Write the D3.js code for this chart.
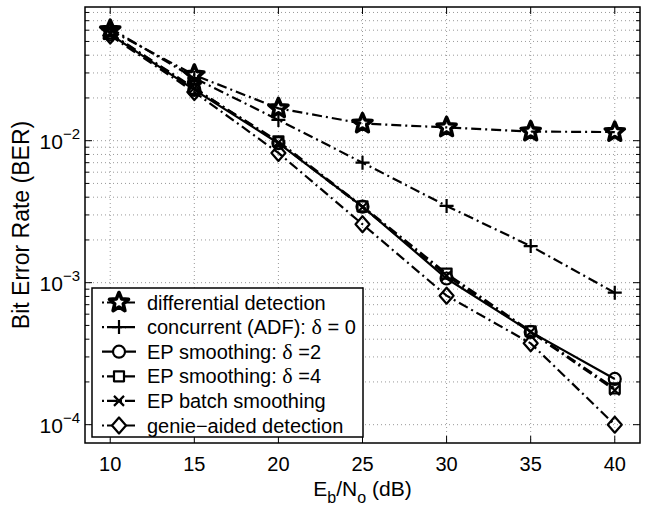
<!DOCTYPE html>
<html>
<head>
<meta charset="utf-8">
<script src="https://cdn.jsdelivr.net/npm/d3@7"></script>
<style>
  body { margin: 0; background: #fff; }
  text { font-family: "Liberation Sans", Arial, Helvetica, sans-serif; fill: #000; }
</style>
</head>
<body>
<div id="chart-area"></div>
<script>
/*
*    BER vs Eb/No - detection schemes
*/
var snr = [10, 15, 20, 25, 30, 35, 40];
var berDiff  = [0.060, 0.029, 0.0169, 0.0132, 0.0124, 0.0116, 0.0115];
var berAdf   = [0.062, 0.0276, 0.0140, 0.0070, 0.00347, 0.00181, 0.00085];
var berEp2   = [0.056, 0.0228, 0.0096, 0.00343, 0.00107, 0.00045, 0.00021];
var berEp4   = [0.057, 0.0232, 0.0099, 0.00345, 0.00116, 0.000455, 0.00018];
var berBatch = [0.057, 0.0235, 0.0097, 0.00340, 0.00112, 0.00045, 0.000175];
var berGenie = [0.055, 0.0220, 0.0082, 0.00258, 0.00081, 0.000374, 0.0001];

var seriesNames = ["differential detection", "concurrent (ADF): ", "EP smoothing: ",
                   "EP smoothing: ", "EP batch smoothing", "genie\u2212aided detection"];
var deltaText = [null, " = 0", " =2", " =4", null, null];
var xTicks = [10, 15, 20, 25, 30, 35, 40];
var yExps = [-2, -3, -4];

var margin = {left: 85, right: 19, top: 7, bottom: 68};
var width = 659 - margin.left - margin.right;
var height = 511 - margin.top - margin.bottom;

var svg = d3.select("#chart-area")
    .append("svg")
        .attr("width", 659)
        .attr("height", 511);
var g = svg.append("g")
    .attr("transform", "translate(" + margin.left + ", " + margin.top + ")");

var x = d3.scaleLinear().domain([8.5, 41.5]).range([0, width]);
var y = d3.scaleLog().domain([7.43e-5, 0.0874]).range([height, 0]);

// grid (dotted, every minor decade line like matlab)
var minorVals = [];
[1e-4, 1e-3, 1e-2].forEach(function(dec){
    for (var k = 1; k <= 9; k++) minorVals.push(dec * k);
});
minorVals = minorVals.filter(function(v){ return v >= y.domain()[0] && v <= y.domain()[1]; });

g.selectAll(".ygrid").data(minorVals).enter().append("line")
    .attr("x1", 0).attr("x2", width)
    .attr("y1", function(d){ return y(d); })
    .attr("y2", function(d){ return y(d); })
    .attr("stroke", "#999").attr("stroke-width", 1)
    .attr("stroke-dasharray", "1,3");
g.selectAll(".xgrid").data(xTicks).enter().append("line")
    .attr("y1", 0).attr("y2", height)
    .attr("x1", function(d){ return x(d); })
    .attr("x2", function(d){ return x(d); })
    .attr("stroke", "#999").attr("stroke-width", 1)
    .attr("stroke-dasharray", "1,3");

// inward ticks on all four sides
function isMajor(v){ return Math.abs(Math.log10(v) - Math.round(Math.log10(v))) < 1e-6; }
minorVals.forEach(function(v){
    var len = isMajor(v) ? 7 : 4;
    g.append("line").attr("x1", 0).attr("x2", len)
        .attr("y1", y(v)).attr("y2", y(v)).attr("stroke", "#000");
    g.append("line").attr("x1", width - len).attr("x2", width)
        .attr("y1", y(v)).attr("y2", y(v)).attr("stroke", "#000");
});
xTicks.forEach(function(v){
    g.append("line").attr("x1", x(v)).attr("x2", x(v))
        .attr("y1", height).attr("y2", height - 7).attr("stroke", "#000");
    g.append("line").attr("x1", x(v)).attr("x2", x(v))
        .attr("y1", 0).attr("y2", 7).attr("stroke", "#000");
});

// tick labels
g.selectAll(".xlab").data(xTicks).enter().append("text")
    .attr("x", function(d){ return x(d); })
    .attr("y", height + 28)
    .attr("text-anchor", "middle")
    .attr("font-size", "20px")
    .text(function(d){ return d; });

var yl = g.selectAll(".ylab").data(yExps).enter().append("text")
    .attr("x", -5)
    .attr("y", function(d){ return y(Math.pow(10, d)) + 8; })
    .attr("text-anchor", "end")
    .attr("font-size", "21px");
yl.append("tspan").text("10");
yl.append("tspan").attr("dy", -10).attr("font-size", "15px")
    .text(function(d){ return "\u2212" + (-d); });

// axis titles
var xt = g.append("text")
    .attr("x", width / 2)
    .attr("y", height + 53)
    .attr("text-anchor", "middle")
    .attr("font-size", "21px");
xt.append("tspan").text("E");
xt.append("tspan").attr("dy", 7).attr("font-size", "16px").text("b");
xt.append("tspan").attr("dy", -7).text("/N");
xt.append("tspan").attr("dy", 7).attr("font-size", "16px").text("o");
xt.append("tspan").attr("dy", -7).text(" (dB)");

g.append("text")
    .attr("x", -(height / 2))
    .attr("y", -56)
    .attr("transform", "rotate(-90)")
    .attr("text-anchor", "middle")
    .attr("font-size", "23px")
    .text("Bit Error Rate (BER)");

// marker shapes
function markerPath(type){
    var p = d3.path();
    if (type === "star") {
        for (var i = 0; i < 10; i++) {
            var r = i % 2 === 0 ? 10 : 4.5;
            var a = -Math.PI / 2 + i * Math.PI / 5;
            if (i === 0) p.moveTo(r * Math.cos(a), r * Math.sin(a));
            else p.lineTo(r * Math.cos(a), r * Math.sin(a));
        }
        p.closePath();
    } else if (type === "plus") {
        p.moveTo(-7, 0); p.lineTo(7, 0); p.moveTo(0, -7); p.lineTo(0, 7);
    } else if (type === "circle") {
        p.arc(0, 0, 6, 0, 2 * Math.PI);
    } else if (type === "square") {
        p.rect(-5, -5, 10, 10);
    } else if (type === "x") {
        p.moveTo(-5, -5); p.lineTo(5, 5); p.moveTo(-5, 5); p.lineTo(5, -5);
    } else if (type === "diamond") {
        p.moveTo(0, -8); p.lineTo(7, 0); p.lineTo(0, 8); p.lineTo(-7, 0); p.closePath();
    }
    return p.toString();
}

var dashDot = "10,4,2,4";
var series = [
    {vals: berDiff,  dash: dashDot, marker: "star"},
    {vals: berAdf,   dash: dashDot, marker: "plus"},
    {vals: berEp2,   dash: null,    marker: "circle"},
    {vals: berEp4,   dash: dashDot, marker: "square"},
    {vals: berBatch, dash: dashDot, marker: "x"},
    {vals: berGenie, dash: dashDot, marker: "diamond"}
];

var line = d3.line()
    .x(function(d, i){ return x(snr[i]); })
    .y(function(d){ return y(d); });

series.forEach(function(s){
    g.append("path")
        .attr("d", line(s.vals))
        .attr("fill", "none")
        .attr("stroke", "#000")
        .attr("stroke-width", 2.2)
        .attr("stroke-dasharray", s.dash);
    g.selectAll(null).data(s.vals).enter().append("path")
        .attr("transform", function(d, i){
            return "translate(" + x(snr[i]) + "," + y(d) + ")";
        })
        .attr("d", markerPath(s.marker))
        .attr("fill", "none")
        .attr("stroke", "#000")
        .attr("stroke-linejoin", "round")
        .attr("stroke-width", s.marker === "star" ? 3.6 : 2.2);
});

// box
g.append("rect")
    .attr("width", width).attr("height", height)
    .attr("fill", "none").attr("stroke", "#000").attr("stroke-width", 1.5);

// legend
var leg = g.append("g").attr("transform", "translate(" + (92 - margin.left) + "," + (288 - margin.top) + ")");
leg.append("rect")
    .attr("width", 271).attr("height", 149)
    .attr("fill", "#fff").attr("stroke", "#000").attr("stroke-width", 1.5);

series.forEach(function(s, i){
    var cy = 14.5 + i * 24.6;
    leg.append("line")
        .attr("x1", 10).attr("x2", 44)
        .attr("y1", cy).attr("y2", cy)
        .attr("stroke", "#000").attr("stroke-width", 2.2)
        .attr("stroke-dasharray", s.dash ? "2,3,10,3" : null);
    leg.append("path")
        .attr("transform", "translate(27," + cy + ")")
        .attr("d", markerPath(s.marker))
        .attr("fill", "#fff")
        .attr("stroke", "#000")
        .attr("stroke-linejoin", "round")
        .attr("stroke-width", s.marker === "star" ? 3.6 : 2.2);
    var t = leg.append("text")
        .attr("x", 55)
        .attr("y", cy + 7)
        .attr("font-size", "20px");
    t.append("tspan").text(seriesNames[i]);
    if (deltaText[i]) {
        t.append("tspan").attr("font-family", "'Liberation Serif', 'Times New Roman', serif")
            .attr("font-size", "22px").text("\u03b4");
        t.append("tspan").text(deltaText[i]);
    }
});
</script>
</body>
</html>
